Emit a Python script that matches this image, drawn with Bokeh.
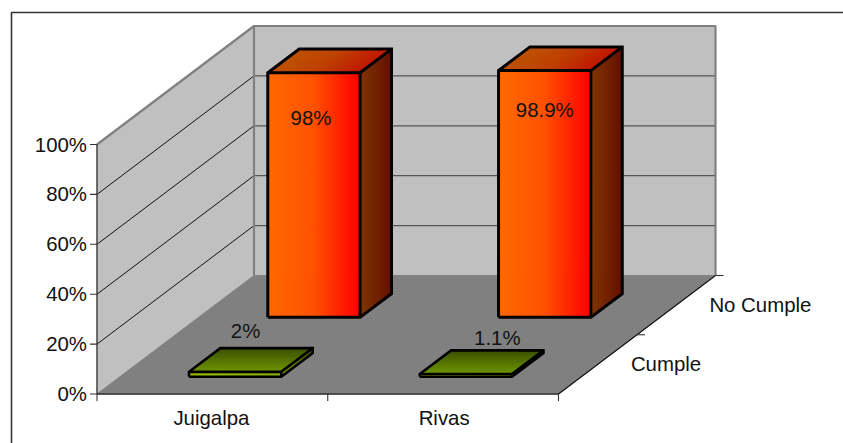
from bokeh.core.properties import value
from bokeh.embed import file_html
from bokeh.models import Range1d
from bokeh.plotting import figure
from bokeh.resources import INLINE

# Chart content
regions = ["Juigalpa", "Rivas"]
series_names = ["Cumple", "No Cumple"]
cumple = [2.0, 1.1]
no_cumple = [98.0, 98.9]
cumple_labels = ["2%", "1.1%"]
no_cumple_labels = ["98%", "98.9%"]
value_ticks = [0, 20, 40, 60, 80, 100]

# Oblique projection of the (category, depth, value) box into the page
ORIGIN_X, ORIGIN_Y = 96.5, 393.5
CATEGORY_W = 230.75
DEPTH_DX, DEPTH_DY = 157.0, -118.5
VALUE_H = 2.495
BAR_START = 0.30
BAR_W = 0.40
BAR_DEPTH = 0.20
SERIES_DEPTH = [0.145, 0.647]

# Hand placement of the printed values relative to their bars
TOP_LABEL_DX = [-3, 0]
TOP_LABEL_DY = [45, 39]
LOW_LABEL_DX = [-21, 0]
LOW_LABEL_DY = [-17, -12]
CATEGORY_LABEL_DX = [-1, 1]


def project(cat, depth, val):
    return (ORIGIN_X + cat * CATEGORY_W + depth * DEPTH_DX,
            ORIGIN_Y + depth * DEPTH_DY - val * VALUE_H)


def hex_mix(a, b, t):
    ca = [int(a[i:i + 2], 16) for i in (1, 3, 5)]
    cb = [int(b[i:i + 2], 16) for i in (1, 3, 5)]
    return "#" + "".join(f"{round(x + (y - x) * t):02x}" for x, y in zip(ca, cb))


p = figure(width=843, height=443, output_backend="svg", toolbar_location=None,
           x_range=Range1d(0, 843), y_range=Range1d(443, 0),
           min_border=0, outline_line_color=None, background_fill_color="white",
           border_fill_color="white")
p.axis.visible = False
p.grid.visible = False


def poly(points, fill, line=None, width=1.0):
    p.patch([q[0] for q in points], [q[1] for q in points], fill_color=fill,
            line_color=line if line else fill, line_width=width,
            line_join="miter")


def seg(a, b, color, width=1.0):
    p.line([a[0], b[0]], [a[1], b[1]], line_color=color, line_width=width,
           line_cap="butt")


def blend(stops, t):
    if len(stops) == 2:
        return hex_mix(stops[0], stops[1], t)
    if t < 0.5:
        return hex_mix(stops[0], stops[1], t * 2)
    return hex_mix(stops[1], stops[2], t * 2 - 1)


def gradient_face(corner, du, dv, stops, n=64, across=False):
    """Fill the parallelogram corner+u*du+v*dv with colour bands along u (or v)."""
    for i in range(n):
        t0, t1 = i / n, (i + 1) / n
        color = blend(stops, (i + 0.5) / n)
        if across:
            b = (dv[0] * t0, dv[1] * t0)
            c = (dv[0] * t1, dv[1] * t1)
            pts = [(corner[0] + b[0], corner[1] + b[1]),
                   (corner[0] + du[0] + b[0], corner[1] + du[1] + b[1]),
                   (corner[0] + du[0] + c[0], corner[1] + du[1] + c[1]),
                   (corner[0] + c[0], corner[1] + c[1])]
        else:
            b = (du[0] * t0, du[1] * t0)
            c = (du[0] * t1, du[1] * t1)
            pts = [(corner[0] + b[0], corner[1] + b[1]),
                   (corner[0] + c[0], corner[1] + c[1]),
                   (corner[0] + c[0] + dv[0], corner[1] + c[1] + dv[1]),
                   (corner[0] + b[0] + dv[0], corner[1] + b[1] + dv[1])]
        poly(pts, color, width=1.0)


def draw_bar(cat, depth, val, colors, edge_w):
    x0 = cat + BAR_START
    x1 = x0 + BAR_W
    d1 = depth + BAR_DEPTH
    fbl, fbr = project(x0, depth, 0), project(x1, depth, 0)
    ftl, ftr = project(x0, depth, val), project(x1, depth, val)
    btl, btr = project(x0, d1, val), project(x1, d1, val)
    bbr = project(x1, d1, 0)

    du = (ftr[0] - ftl[0], 0.0)
    dd = (btl[0] - ftl[0], btl[1] - ftl[1])
    gradient_face(ftl, du, (0.0, fbl[1] - ftl[1]), colors["front"])
    gradient_face(ftl, du, dd, colors["top"], across=colors.get("top_across", False))
    gradient_face(ftr, dd, (0.0, fbr[1] - ftr[1]), colors["side"], n=24)

    outline = [fbl, ftl, btl, btr, bbr, fbr, fbl]
    p.line([q[0] for q in outline], [q[1] for q in outline], line_color="black",
           line_width=edge_w, line_join="miter")
    for a, b in ((ftl, ftr), (ftr, fbr), (ftr, btr)):
        seg(a, b, "black", edge_w)


# Page frame (open on the right and at the bottom)
p.line([11, 11, 843], [443, 12, 12], line_color="#333333", line_width=1.6)

# Walls and floor
poly([project(0, 0, 100), project(0, 1, 100), project(0, 1, 0), project(0, 0, 0)], "#c0c0c0")
poly([project(0, 1, 100), project(2, 1, 100), project(2, 1, 0), project(0, 1, 0)], "#c0c0c0")
poly([project(0, 0, 0), project(2, 0, 0), project(2, 1, 0), project(0, 1, 0)], "#808080")

# Gridlines on both walls
for v in value_ticks[1:]:
    seg(project(0, 0, v), project(0, 1, v), "#111111", 1.0)
    seg(project(0, 1, v), project(2, 1, v), "#555555", 1.2)
corners = [project(0, 0, 100), project(0, 1, 100), project(2, 1, 100), project(2, 1, 0)]
p.line([q[0] for q in corners], [q[1] for q in corners], line_color="#808080", line_width=2.2)
seg(project(0, 1, 100), project(0, 1, 0), "#808080", 2.2)

# Axes and ticks
axis_color = "#333333"
seg(project(0, 0, 0), project(0, 0, 100), axis_color, 1.3)
seg(project(0, 0, 0), project(2, 0, 0), axis_color, 1.3)
seg(project(2, 0, 0), project(2, 1, 0), "#111111", 1.1)
for v in value_ticks:
    x, y = project(0, 0, v)
    seg((x - 7, y), (x, y), axis_color, 1.1)
for c in (0, 1, 2):
    x, y = project(c, 0, 0)
    seg((x, y), (x, y + 7), axis_color, 1.1)
for d in (0.5, 1.0):
    x, y = project(2, d, 0)
    seg((x, y), (x + 8, y), "#333333", 1.1)

ORANGE = {"front": ("#ff6a00", "#ff5200", "#ff0000"),
          "top": ("#bd5200", "#bf4000", "#c01600"),
          "side": ("#823600", "#661000")}
GREEN = {"front": ("#99bb00", "#88aa00"),
         "top": ("#6f9900", "#3f5200"),
         "top_across": True,
         "side": ("#7a9c00", "#4d6600")}

for i in (0, 1):
    draw_bar(i, SERIES_DEPTH[0], cumple[i], GREEN, 2.6)
for i in (0, 1):
    draw_bar(i, SERIES_DEPTH[1], no_cumple[i], ORANGE, 3.0)

FONT = value("Liberation Sans")
SIZE = "20.4px"
TEXT = "#111111"


def label(x, y, s, align="center", baseline="middle"):
    p.text([x], [y], text=[s], text_font=FONT, text_font_size=SIZE, text_color=TEXT,
           text_align=align, text_baseline=baseline)


# Value axis labels
for v in value_ticks:
    x, y = project(0, 0, v)
    label(x - 10, y, f"{v}%", align="right")

# Category labels under the floor
for i, name in enumerate(regions):
    x, y = project(i + 0.5, 0, 0)
    label(x + CATEGORY_LABEL_DX[i], y + 23.5, name)

# Depth labels beside the floor
for d, name in zip((0.27, 0.77), series_names):
    x, y = project(2, d, 0)
    label(x + 30, y + 2, name, align="left")

# Values printed on the bars
for i in (0, 1):
    x, y = project(i + BAR_START + BAR_W / 2, SERIES_DEPTH[1], no_cumple[i])
    label(x + TOP_LABEL_DX[i], y + TOP_LABEL_DY[i], no_cumple_labels[i])
    x, y = project(i + BAR_START + BAR_W / 2, SERIES_DEPTH[0] + BAR_DEPTH, cumple[i])
    label(x + LOW_LABEL_DX[i], y + LOW_LABEL_DY[i], cumple_labels[i])

open("out.html", "w").write(file_html(p, INLINE))
